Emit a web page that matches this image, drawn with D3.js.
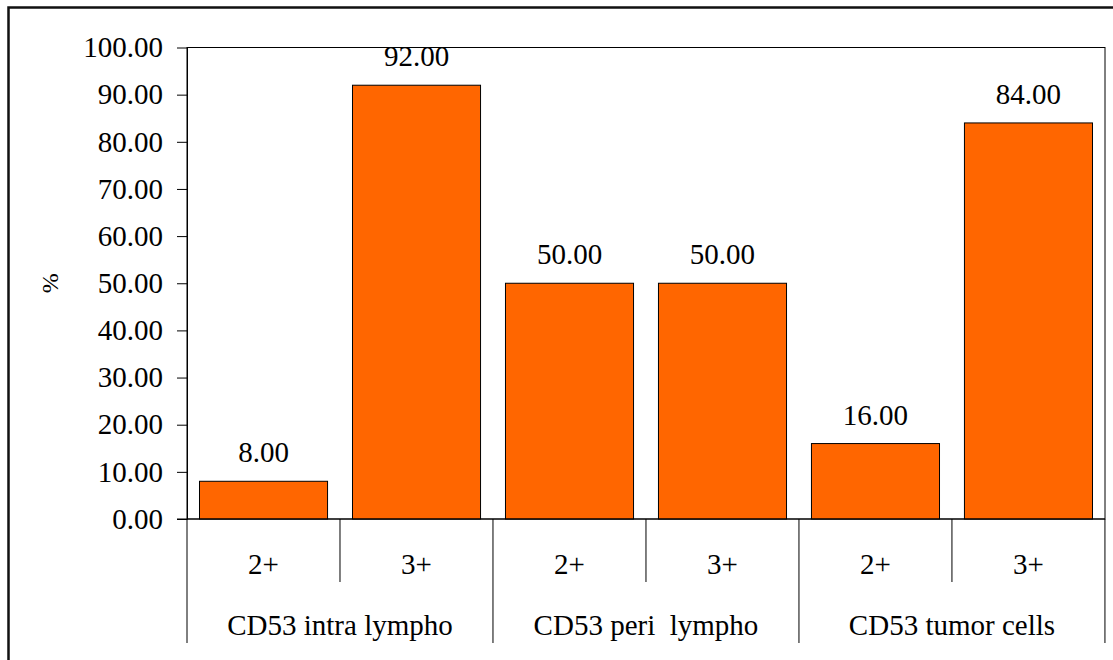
<!DOCTYPE html>
<html>
<head>
<meta charset="utf-8">
<script src="https://cdn.jsdelivr.net/npm/d3@7"></script>
<style>
  html, body { margin: 0; padding: 0; background: #fff; }
  svg { display: block; }
</style>
</head>
<body>
<svg id="chart" width="1113" height="660"></svg>
<script>
// Marker groups and staining grades
const groups = ["CD53 intra lympho", "CD53 peri  lympho", "CD53 tumor cells"];
const grades = ["2+", "3+"];
// Percentage of cases per group / grade (in group order)
const values = [8.00, 92.00, 50.00, 50.00, 16.00, 84.00];
// Y axis tick values
const yTicks = [0, 10, 20, 30, 40, 50, 60, 70, 80, 90, 100];
const yTitle = "%";

const svg = d3.select("#chart");
const fontSize = 29;
const serif = "'Liberation Serif', 'Times New Roman', 'DejaVu Serif', serif";

const plot = { left: 187, right: 1105, top: 47.5, bottom: 519 };
const catBottom = 643, gradeBottom = 582;

// Outer chart frame
svg.append("rect")
  .attr("x", 8.5).attr("y", 7.5)
  .attr("width", 1120).attr("height", 700)
  .attr("fill", "none").attr("stroke", "#111").attr("stroke-width", 2.5);

// Flattened items: one per (group, grade)
const items = [];
groups.forEach((g, gi) => grades.forEach((s, si) => {
  items.push({ group: g, grade: s, key: g + "|" + s, value: values[gi * grades.length + si] });
}));

const x = d3.scaleBand()
  .domain(items.map(d => d.key))
  .range([plot.left, plot.right])
  .paddingInner(0.163)
  .paddingOuter(0.0817);

const y = d3.scaleLinear().domain([0, 100]).range([plot.bottom, plot.top]);

// Plot area border
svg.append("rect")
  .attr("x", plot.left).attr("y", plot.top)
  .attr("width", plot.right - plot.left).attr("height", plot.bottom - plot.top)
  .attr("fill", "none").attr("stroke", "#000").attr("stroke-width", 1);

// Bars
svg.append("g").selectAll("rect")
  .data(items)
  .join("rect")
  .attr("x", d => x(d.key))
  .attr("y", d => y(d.value))
  .attr("width", x.bandwidth())
  .attr("height", d => y(0) - y(d.value))
  .attr("fill", "#FF6600")
  .attr("stroke", "#000")
  .attr("stroke-width", 1);

// Value labels
svg.append("g").selectAll("text")
  .data(items)
  .join("text")
  .attr("x", d => x(d.key) + x.bandwidth() / 2)
  .attr("y", d => y(d.value) - 19)
  .attr("text-anchor", "middle")
  .style("font-family", serif)
  .style("font-size", fontSize + "px")
  .attr("fill", "#000")
  .text(d => d3.format(".2f")(d.value));

// Y axis
const yAxis = svg.append("g")
  .attr("transform", `translate(${plot.left},0)`)
  .call(d3.axisLeft(y).tickValues(yTicks).tickFormat(d3.format(".2f")).tickSize(10).tickPadding(14).tickSizeOuter(0));
yAxis.attr("font-family", null).attr("font-size", null);
yAxis.select(".domain").attr("stroke", "#000");
yAxis.selectAll(".tick line").attr("stroke", "#000");
yAxis.selectAll(".tick text")
  .style("font-family", serif)
  .style("font-size", fontSize + "px")
  .attr("fill", "#000");

// Y axis title
svg.append("text")
  .attr("transform", `translate(58,${(plot.top + plot.bottom) / 2}) rotate(-90)`)
  .attr("text-anchor", "middle")
  .style("font-family", serif)
  .style("font-size", "24px")
  .attr("fill", "#000")
  .text(yTitle);

// Category axis: baseline, grade separators and group separators
const step = x.step();
const cat = svg.append("g").attr("stroke", "#000").attr("stroke-width", 1);
cat.append("line")
  .attr("x1", plot.left - 10).attr("x2", plot.right)
  .attr("y1", plot.bottom).attr("y2", plot.bottom);
// Boundaries between grades within a group
items.forEach((d, i) => {
  if (i % grades.length !== 0) {
    const bx = plot.left + i * step;
    cat.append("line").attr("x1", bx).attr("x2", bx).attr("y1", plot.bottom).attr("y2", gradeBottom);
  }
});
// Boundaries between groups
d3.range(groups.length + 1).forEach(gi => {
  const bx = plot.left + gi * grades.length * step;
  cat.append("line").attr("x1", bx).attr("x2", bx).attr("y1", plot.bottom).attr("y2", catBottom);
});

// Grade labels
svg.append("g").selectAll("text")
  .data(items)
  .join("text")
  .attr("x", d => x(d.key) + x.bandwidth() / 2)
  .attr("y", 574)
  .attr("text-anchor", "middle")
  .style("font-family", serif)
  .style("font-size", fontSize + "px")
  .attr("fill", "#000")
  .text(d => d.grade);

// Group labels
svg.append("g").selectAll("text")
  .data(groups)
  .join("text")
  .attr("x", (d, gi) => plot.left + (gi + 0.5) * grades.length * step)
  .attr("y", 635)
  .attr("text-anchor", "middle")
  .style("font-family", serif)
  .style("font-size", fontSize + "px")
  .style("white-space", "pre")
  .attr("fill", "#000")
  .text(d => d);
</script>
</body>
</html>
